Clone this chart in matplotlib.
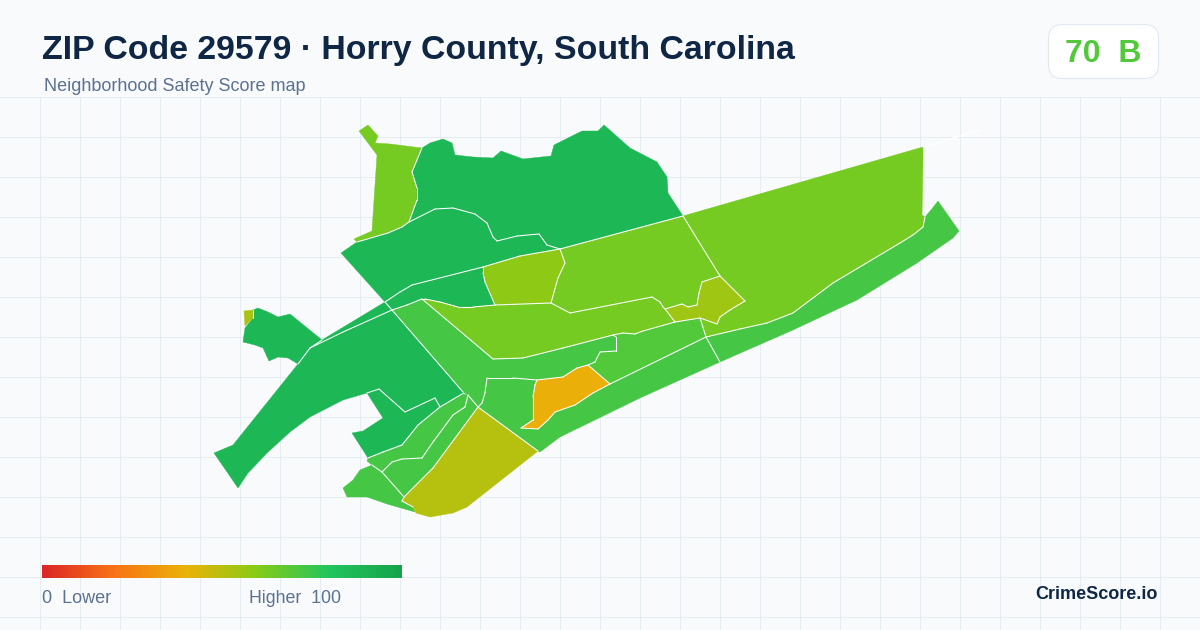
from collections import Counter

import numpy as np
from matplotlib import pyplot as plt
from matplotlib.colors import LinearSegmentedColormap
from matplotlib.patches import FancyBboxPatch, Polygon

plt.rcParams['font.family'] = ['Liberation Sans', 'DejaVu Sans']

title = "ZIP Code 29579 · Horry County, South Carolina"
subtitle = "Neighborhood Safety Score map"
badge_score = 70
badge_grade = "B"

scale_colors = ['#dc2626', '#f97316', '#eab308', '#84cc16', '#22c55e', '#16a34a']

# outlines (x, y in image pixels)
nw_arm = [(359, 131), (368, 125), (378, 136), (375, 143), (390, 144), (422, 148), (417, 160), (412, 172),
          (417, 188), (417, 200), (409, 222), (402, 227), (388, 233), (357, 242), (354, 239), (372, 231),
          (377, 155)]
north = [(422, 148), (430, 143), (443, 139), (452, 143), (455, 155), (473, 157), (493, 158), (501, 151),
         (523, 159), (551, 156), (554, 145), (582, 131), (598, 131), (604, 125), (630, 148), (657, 162),
         (667, 177), (668, 193), (683, 216), (560, 249), (547, 245),
         (539, 234), (517, 236), (497, 241), (493, 237), (487, 223), (475, 214), (453, 208), (435, 209),
         (409, 222), (417, 200), (417, 188), (412, 172), (417, 160)]
north_mid = [(341, 253), (357, 242), (388, 233), (402, 227), (409, 222), (435, 209), (453, 208), (475, 214),
             (487, 223), (493, 237), (497, 241), (517, 236), (539, 234), (547, 245), (560, 249), (520, 256),
             (483, 267), (412, 285), (400, 292), (385, 302)]
mid_strip = [(385, 302), (400, 292), (412, 285), (483, 267), (483, 273), (485, 282), (495, 305), (473, 307),
             (458, 307), (440, 302), (425, 299), (422, 299), (407, 305), (392, 310)]
west_lobe = [(253, 310), (258, 308), (268, 312), (278, 317), (290, 314), (322, 340), (310, 348), (298, 364),
             (288, 358), (278, 357), (269, 361), (263, 348), (255, 345), (243, 342), (245, 328), (253, 318)]
west_tip = [(244, 311), (253, 310), (253, 318), (245, 326)]
west_strip = [(385, 302), (392, 310), (343, 332), (310, 348), (322, 340)]
southwest = [(392, 310), (343, 332), (310, 348), (298, 364), (233, 445), (214, 453), (238, 488), (248, 473),
             (267, 453), (290, 432), (310, 417), (343, 400), (367, 393), (379, 389), (405, 412), (435, 398),
             (440, 407), (462, 394), (463, 392)]
south_chunk = [(367, 393), (379, 389), (405, 412), (435, 398), (440, 407), (418, 425), (402, 445), (383, 452),
               (368, 458), (352, 433), (363, 431), (383, 418)]
south_band = [(367, 461), (368, 458), (383, 452), (402, 445), (418, 425), (440, 407), (462, 394), (468, 395),
              (465, 407), (453, 415), (433, 442), (422, 458), (402, 459), (392, 462), (382, 472), (372, 465)]
south_inner = [(382, 472), (392, 462), (402, 459), (422, 458), (433, 442), (453, 415), (465, 407), (468, 395),
               (478, 407), (433, 468), (404, 497)]
southwest_coast = [(372, 465), (382, 472), (404, 497), (402, 501), (413, 507), (415, 512), (387, 504), (367, 497),
                   (347, 497), (343, 488), (353, 480), (360, 470)]
south_point = [(478, 407), (538, 451), (467, 507), (453, 513), (430, 517), (416, 513), (413, 507), (402, 501),
               (404, 497), (433, 468)]
center_west = [(392, 310), (407, 305), (422, 299), (493, 359), (523, 358), (563, 348), (613, 335), (616, 337),
               (616, 351), (600, 352), (595, 362), (588, 365), (577, 368), (563, 377), (537, 380), (513, 378),
               (487, 378), (485, 393), (482, 403), (478, 407), (468, 395), (463, 392)]
coast = [(487, 378), (513, 378), (537, 380), (535, 385), (533, 397), (533, 420), (521, 428), (538, 429), (548, 420),
         (555, 412), (575, 405), (593, 393), (610, 384), (706, 337), (720, 362), (640, 398), (560, 437), (540, 452),
         (538, 451), (478, 407), (482, 403), (485, 393)]
orange_patch = [(537, 380), (563, 377), (577, 368), (588, 365), (610, 384), (593, 393), (575, 405), (555, 412),
                (548, 420), (538, 429), (521, 428), (533, 420), (533, 397), (535, 385)]
center_east = [(613, 335), (623, 333), (635, 334), (643, 331), (675, 322), (700, 318), (706, 337), (610, 384),
               (588, 365), (595, 362), (600, 352), (616, 351), (616, 337)]
east_coast = [(706, 337), (740, 329), (767, 323), (793, 313), (813, 298), (833, 283), (900, 243), (913, 235),
              (923, 227), (925, 217), (931, 210), (938, 201), (959, 231), (953, 238), (917, 263), (857, 300),
              (793, 330), (720, 362)]
northeast = [(683, 216), (923, 147), (923, 163), (922, 215), (925, 217), (923, 227), (913, 235), (900, 243),
             (833, 283), (813, 298), (793, 313), (767, 323), (740, 329), (706, 337), (700, 318), (717, 324),
             (720, 317), (730, 310), (745, 301), (720, 276)]
east_blob = [(720, 276), (745, 301), (730, 310), (720, 317), (717, 324), (700, 318), (675, 322), (665, 309),
             (682, 304), (688, 307), (697, 305), (699, 293), (702, 282)]
center_north = [(560, 249), (683, 216), (720, 276), (702, 282), (699, 293), (697, 305), (688, 307), (682, 304),
                (665, 309), (663, 307), (660, 302), (652, 297), (570, 313), (551, 303), (558, 278), (565, 263)]
yellow_block = [(483, 267), (520, 256), (560, 249), (565, 263), (558, 278), (551, 303), (495, 305), (485, 282),
                (483, 273)]
center_band = [(422, 299), (425, 299), (440, 302), (458, 307), (473, 307), (495, 305), (551, 303), (570, 313),
               (652, 297), (660, 302), (663, 307), (665, 309), (675, 322), (643, 331), (635, 334),
               (623, 333), (613, 335), (563, 348), (523, 358), (493, 359)]

# thin white sliver that carries on past the corner of the map
stray_edge = [(923, 147), (960, 136), (980, 130)]

regions = [nw_arm, north, north_mid, mid_strip, west_lobe, west_tip, west_strip, southwest, south_chunk, south_band,
           south_inner, southwest_coast, south_point, center_west, coast, orange_patch, center_east, east_coast,
           northeast, east_blob, center_north, yellow_block, center_band]
region_scores = [63, 88, 88, 88, 88, 52, 88, 88, 88, 73, 73, 73, 50, 73, 73, 39, 70, 73, 63, 55, 63, 58, 63]

cmap = LinearSegmentedColormap.from_list('safety', scale_colors)

fig = plt.figure(figsize=(12, 6.3), dpi=100, facecolor='#f8fafc')
ax = fig.add_axes([0, 0, 1, 1])
ax.set_xlim(0, 1200)
ax.set_ylim(630, 0)
ax.axis('off')

# background grid starts below the header
for gx in np.arange(40, 1200, 40):
    ax.plot([gx, gx], [97, 630], color='#e4edf2', lw=0.72, zorder=1)
for gy in np.arange(97, 630, 40):
    ax.plot([0, 1200], [gy, gy], color='#e4edf2', lw=0.72, zorder=1)

for outline, score in zip(regions, region_scores):
    color = cmap(score / 100)
    ax.add_patch(Polygon(outline, closed=True, facecolor=color, edgecolor=color, linewidth=0.3, zorder=2))

# white borders only where two regions meet, the outer edge stays bare
edge_count = Counter()
for outline in regions:
    for a, b in zip(outline, outline[1:] + outline[:1]):
        edge_count[tuple(sorted((a, b)))] += 1
for (a, b), n in edge_count.items():
    if n > 1:
        ax.plot([a[0], b[0]], [a[1], b[1]], color='white', lw=0.75, solid_capstyle='round', zorder=3)

ax.plot([p[0] for p in stray_edge], [p[1] for p in stray_edge], color='white', lw=0.9, zorder=2)

ax.text(42, 59, title, fontsize=24.4, fontweight='bold', color='#0f2744', va='baseline', ha='left')
ax.text(44, 91, subtitle, fontsize=12.95, color='#5b7190', va='baseline', ha='left')

ax.add_patch(FancyBboxPatch((1048.5, 24.5), 110, 54, boxstyle='round,pad=0,rounding_size=14',
                            facecolor='white', edgecolor='#e2e8f0', linewidth=0.8, zorder=3))
ax.text(1065, 62, f"{badge_score}  {badge_grade}", fontsize=23, fontweight='bold', color=cmap(badge_score / 100),
        va='baseline', ha='left', zorder=4)

gradient = np.linspace(0, 1, 360).reshape(1, -1)
ax.imshow(gradient, cmap=cmap, extent=(42, 402, 578, 565), aspect='auto', zorder=3)
ax.set_xlim(0, 1200)
ax.set_ylim(630, 0)

ax.text(42, 603, "0  Lower", fontsize=12.95, color='#5b7190', va='baseline', ha='left')
ax.text(249, 603, "Higher  100", fontsize=12.8, color='#5b7190', va='baseline', ha='left')
ax.text(1158, 599, "CrimeScore.io", fontsize=13, fontweight='bold', color='#0f2744', va='baseline', ha='right')

plt.savefig('out.png', dpi=100, facecolor=fig.get_facecolor())
